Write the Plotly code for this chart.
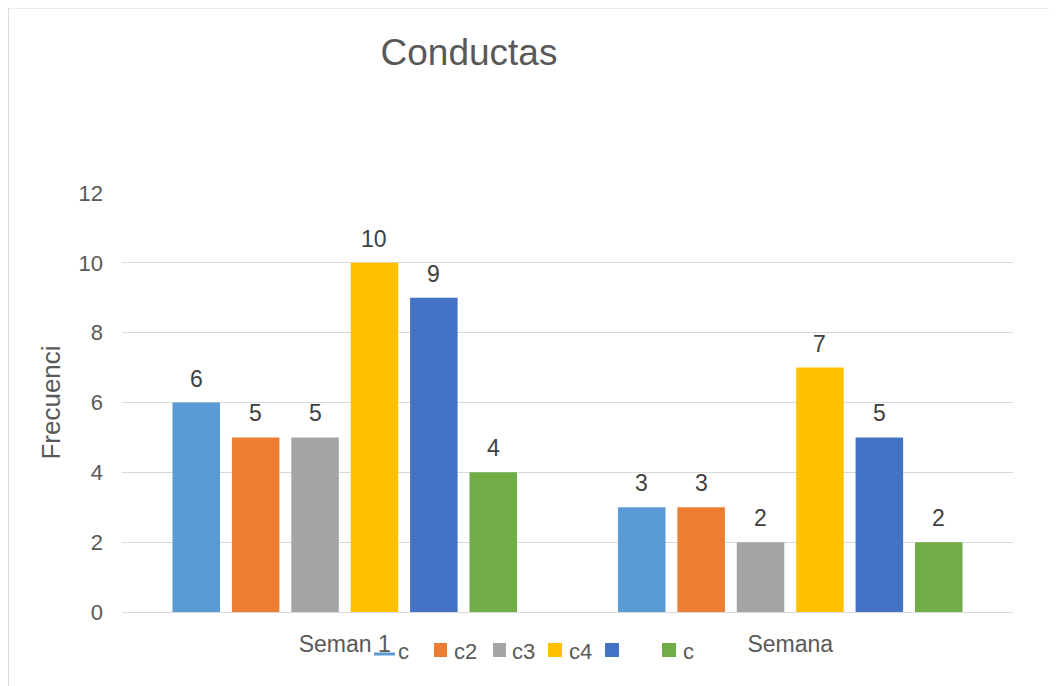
import plotly.graph_objects as go

categories = ["Seman 1", "Semana"]
series_names = ["c", "c2", "c3", "c4", "", "c"]
series_values = [
    [6, 3],
    [5, 3],
    [5, 2],
    [10, 7],
    [9, 5],
    [4, 2],
]
colors = ["#5B9BD5", "#ED7D31", "#A5A5A5", "#FFC000", "#4472C4", "#70AD47"]
y_ticks = [0, 2, 4, 6, 8, 10, 12]

FONT = "Liberation Sans, Arial, sans-serif"
TXT = "#595959"

# page has an 8px body margin: figure origin sits at screen (8, 8)
OFF = 8
W, H = 1049, 678
PL, PR, PT, PB = 122, 1013, 193, 612  # plot area in screen px
L, R, T, B = PL - OFF, W - (PR - OFF), PT - OFF, H - (PB - OFF)
PW, PH = PR - PL, PB - PT

BARGAP, BARGROUPGAP = 0.2, 0.2


def px(x):
    return (x - PL) / PW


def py(y):
    return (PB - y) / PH


fig = go.Figure()
n = len(series_values)
pitch = (PW / len(categories)) * (1 - BARGAP) / n
annotations = []
for i, (name, vals) in enumerate(zip(series_names, series_values)):
    fig.add_trace(go.Bar(
        x=categories, y=vals, name=name if name else " ",
        marker=dict(color=colors[i], line=dict(width=0)),
        showlegend=False,
    ))
    for cat, v in zip(categories, vals):
        annotations.append(dict(
            text=str(v), xref="x", yref="y", x=cat, y=v,
            xshift=(i - (n - 1) / 2) * pitch, yshift=9,
            xanchor="center", yanchor="bottom", showarrow=False,
            font=dict(size=23, color="#404040", family=FONT)))

shapes = []
# manual legend mimicking the overlapping Excel legend
legend_items = [
    ("line", 374, 395, "c", 396),
    ("sq", 434, 447, "c2", 452),
    ("sq", 493, 506, "c3", 510),
    ("sq", 548, 562, "c4", 567),
    ("sq", 605, 619, "", None),
    ("sq", 662, 676, "c", 681),
]
for i, (kind, x0, x1, label, tx) in enumerate(legend_items):
    if kind == "line":
        shapes.append(dict(type="line", xref="paper", yref="paper",
                           x0=px(x0), x1=px(x1), y0=py(654), y1=py(654),
                           line=dict(color=colors[i], width=3)))
    else:
        shapes.append(dict(type="rect", xref="paper", yref="paper",
                           x0=px(x0), x1=px(x1), y0=py(657), y1=py(643),
                           fillcolor=colors[i], line=dict(width=0)))
    if label:
        annotations.append(dict(text=label, xref="paper", yref="paper",
                                x=px(tx), y=py(651), xanchor="left", yanchor="middle",
                                showarrow=False, font=dict(size=22, color=TXT, family=FONT)))

# chart border (light grey frame)
shapes.append(dict(type="rect", xref="paper", yref="paper",
                   x0=px(OFF + 0.5), x1=px(1080), y0=py(7 + 1), y1=py(720),
                   line=dict(color="#D9D9D9", width=1), fillcolor="rgba(0,0,0,0)", layer="below"))

fig.update_layout(
    width=W, height=H,
    margin=dict(l=L, r=R, t=T, b=B, pad=0),
    paper_bgcolor="white", plot_bgcolor="white",
    barmode="group", bargap=BARGAP, bargroupgap=BARGROUPGAP,
    font=dict(family=FONT, color=TXT),
    title=dict(text="Conductas", xref="container", yref="container",
               x=(469 - OFF) / W, y=1 - (52 - OFF) / H, xanchor="center", yanchor="middle",
               font=dict(size=37, color=TXT, family=FONT)),
    xaxis=dict(showgrid=False, ticks="", showline=False,
               tickfont=dict(size=23, color=TXT, family=FONT),
               ticklabelstandoff=16),
    yaxis=dict(range=[0, 12], tickvals=y_ticks, showgrid=True, gridcolor="#D9D9D9",
               gridwidth=1, zeroline=True, zerolinecolor="#D9D9D9", zerolinewidth=1,
               ticks="", showline=False, ticklabelstandoff=18,
               tickfont=dict(size=22, color=TXT, family=FONT),
               title=dict(text="Frecuenci", standoff=10,
                          font=dict(size=26, color=TXT, family=FONT))),
    shapes=shapes, annotations=annotations, showlegend=False,
)

fig.write_html("out.html")
